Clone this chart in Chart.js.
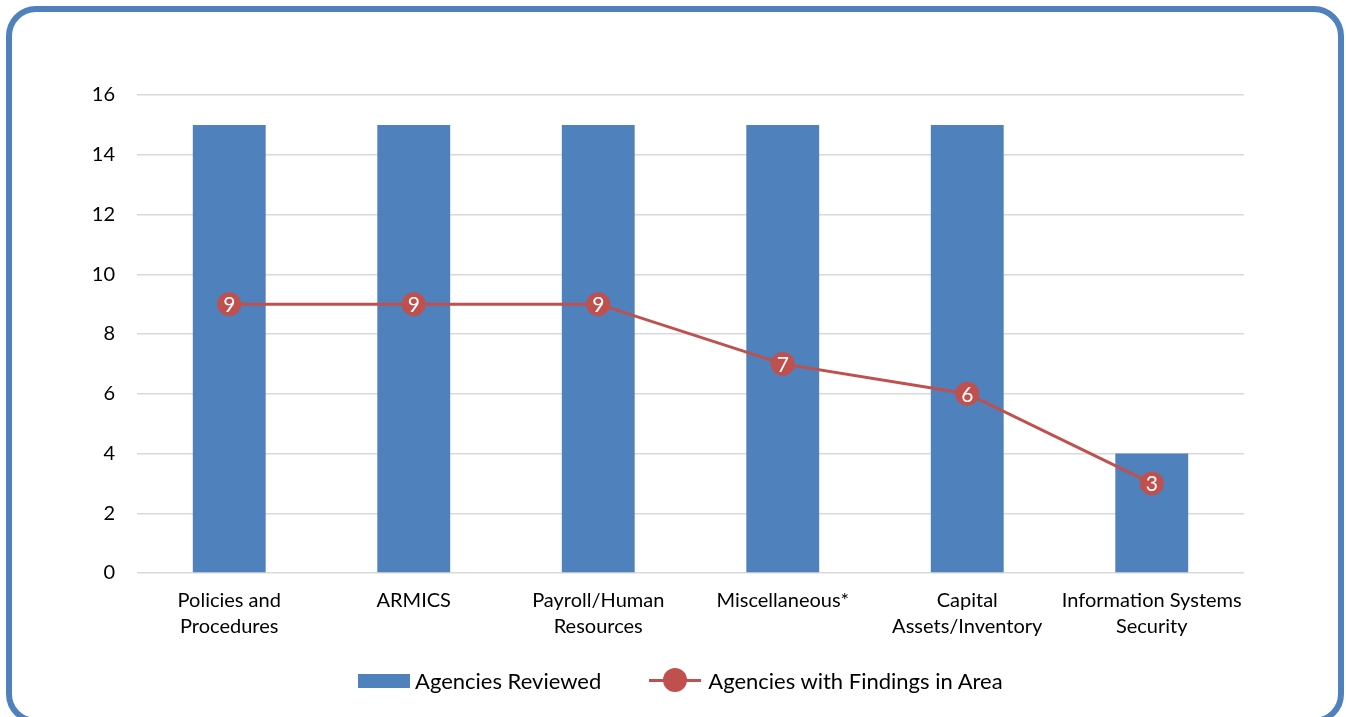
<!DOCTYPE html>
<html lang="en">
<head>
  <meta charset="UTF-8" />
  <title>Agencies Reviewed vs Findings</title>
  <script src="https://cdn.jsdelivr.net/npm/chart.js"></script>
  <style>
    body {
      margin: 0;
      background: #fff;
      font-family: Lato, 'Liberation Sans', sans-serif;
    }
    .frame {
      position: absolute;
      left: 6px;
      top: 6px;
      width: 1326px;
      height: 706px;
      border: 6px solid #4f81bd;
      border-radius: 30px;
      pointer-events: none;
    }
    #wrap {
      position: absolute;
      left: 0;
      top: 0;
      width: 1346px;
      height: 717px;
    }
    .legend {
      position: absolute;
      left: 358px;
      top: 667px;
      display: flex;
      align-items: center;
      font-size: 22px;
      color: #000;
    }
    .legend .item { display: flex; align-items: center; }
    .legend .box { width: 52px; height: 14px; background: #4f81bd; margin-right: 5px; }
    .legend .line { position: relative; width: 52px; height: 3px; background: #c0504d; margin-right: 7px; margin-left: 48px; }
    .legend .line::after {
      content: ''; position: absolute; left: 14px; top: -11px;
      width: 24px; height: 24px; border-radius: 50%; background: #c0504d;
    }
  </style>
</head>
<body>
<div id="wrap"><canvas id="chart"></canvas></div>
<div class="frame"></div>
<div class="legend">
  <div class="item"><span class="box"></span>Agencies Reviewed</div>
  <div class="item"><span class="line"></span>Agencies with Findings in Area</div>
</div>
<script>
  // chart data
  const categories = [
    ['Policies and', 'Procedures'],
    'ARMICS',
    ['Payroll/Human', 'Resources'],
    'Miscellaneous*',
    ['Capital', 'Assets/Inventory'],
    ['Information Systems', 'Security']
  ];
  const agenciesReviewed = [15, 15, 15, 15, 15, 4];
  const agenciesWithFindings = [9, 9, 9, 7, 6, 3];
  const yTicks = [0, 2, 4, 6, 8, 10, 12, 14, 16];

  // white numbers inside the line markers
  const pointLabels = {
    id: 'pointLabels',
    afterDatasetsDraw(chart) {
      const ctx = chart.ctx;
      const meta = chart.getDatasetMeta(0);
      ctx.save();
      ctx.fillStyle = '#fff';
      ctx.font = '21px Lato, sans-serif';
      ctx.textAlign = 'center';
      ctx.textBaseline = 'middle';
      meta.data.forEach(function (pt, i) {
        ctx.fillText(String(agenciesWithFindings[i]), pt.x, pt.y + 1);
      });
      ctx.restore();
    }
  };

  new Chart(document.getElementById('chart'), {
    data: {
      labels: categories,
      datasets: [
        {
          type: 'line',
          label: 'Agencies with Findings in Area',
          data: agenciesWithFindings,
          borderColor: '#c0504d',
          borderWidth: 3,
          backgroundColor: '#c0504d',
          pointRadius: 12,
          pointHoverRadius: 12,
          pointBorderWidth: 0,
          tension: 0,
          order: 0
        },
        {
          type: 'bar',
          label: 'Agencies Reviewed',
          data: agenciesReviewed,
          backgroundColor: '#4f81bd',
          barPercentage: 0.79,
          categoryPercentage: 0.5,
          order: 1
        }
      ]
    },
    plugins: [pointLabels],
    options: {
      responsive: true,
      maintainAspectRatio: false,
      animation: false,
      layout: { padding: { top: 95, right: 102, left: 0, bottom: 0 } },
      plugins: {
        legend: { display: false },
        tooltip: { enabled: false }
      },
      scales: {
        x: {
          grid: { display: false },
          border: { display: false },
          ticks: {
            color: '#000',
            font: { family: 'Lato, sans-serif', size: 20, lineHeight: 1.3 },
            padding: 7,
            maxRotation: 0,
            autoSkip: false
          },
          afterFit(scale) { scale.height = 144; }
        },
        y: {
          min: 0,
          max: 16,
          afterBuildTicks(scale) { scale.ticks = yTicks.map(v => ({ value: v })); },
          grid: { color: '#d9d9d9', lineWidth: 1.5, drawTicks: false },
          border: { display: false },
          ticks: {
            color: '#000',
            font: { family: 'Lato, sans-serif', size: 20 },
            padding: 22
          },
          afterFit(scale) { scale.width = 137; }
        }
      }
    }
  });
</script>
</body>
</html>
